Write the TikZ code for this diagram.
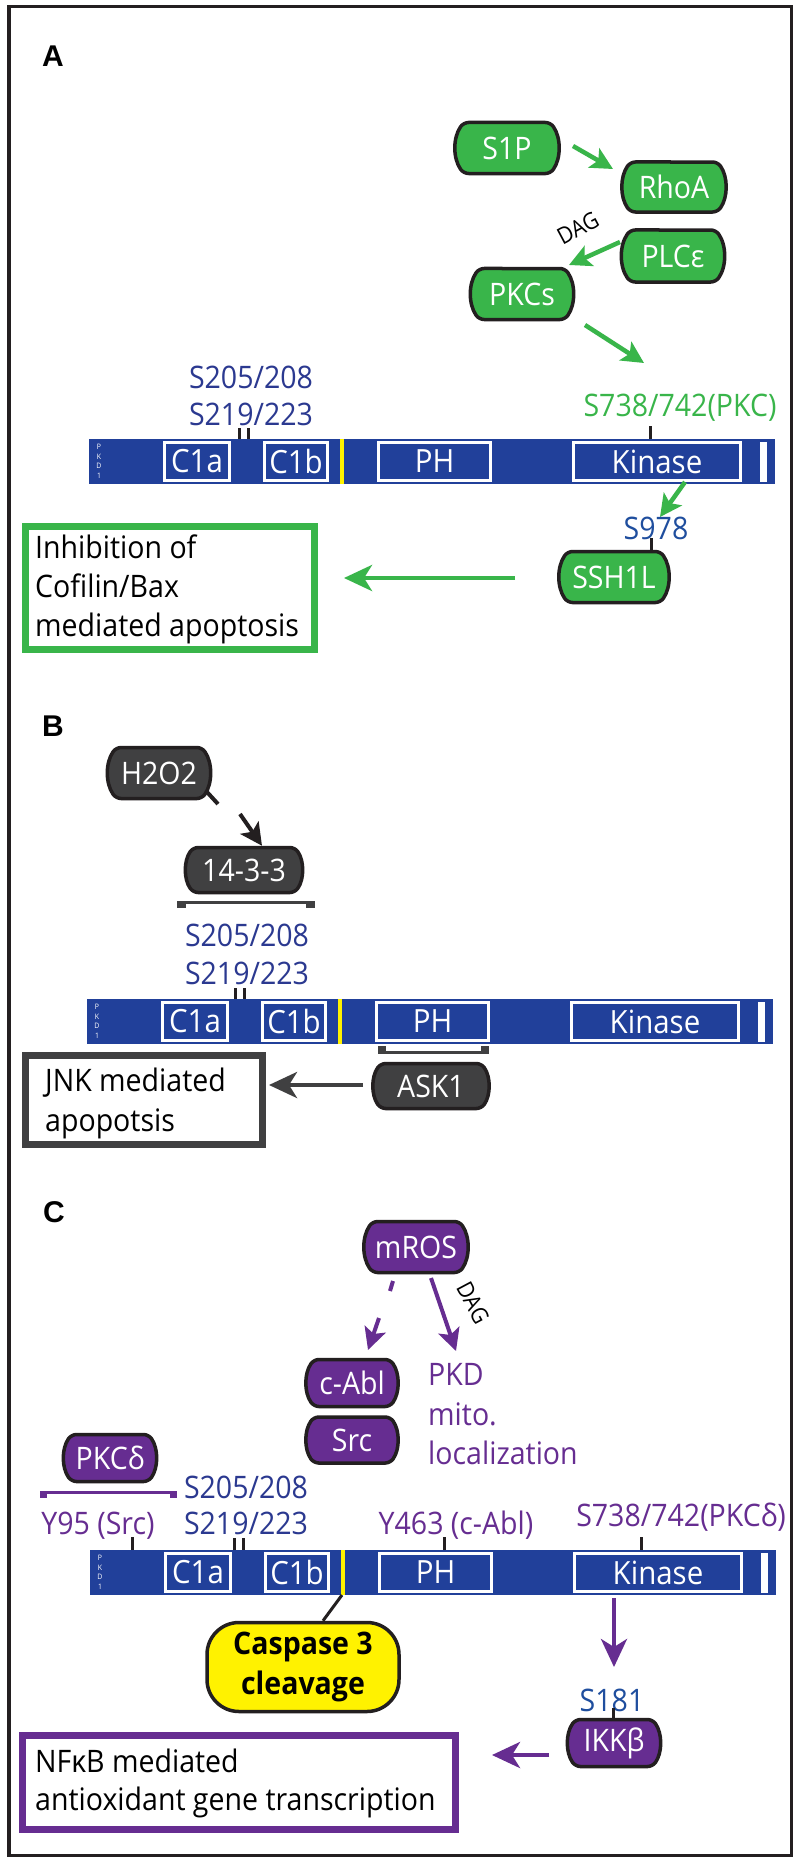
\documentclass[tikz,border=0pt]{standalone}
\usepackage{fontspec}
\setmainfont{Open Sans}[FakeStretch=0.92]
\newfontfamily\labfont{Liberation Sans}
\usetikzlibrary{shapes.misc,arrows.meta}
\definecolor{pkdblue}{HTML}{21409A}
\definecolor{navy}{HTML}{2B3990}
\definecolor{sblue}{HTML}{1F4E9E}
\definecolor{pgreen}{HTML}{39B54A}
\definecolor{ppurple}{HTML}{662D91}
\definecolor{dgray}{HTML}{404041}
\definecolor{frame}{HTML}{231F20}
\definecolor{cyellow}{HTML}{FFF200}
\tikzset{
  txt/.style={font=\fontsize{31}{36}\selectfont},
  prot/.style={rounded rectangle, rounded rectangle arc length=70, draw=frame,
    line width=3.5pt, line join=round, rounded corners=5pt, inner sep=0pt, text=white, txt},
  gprot/.style={prot, fill=pgreen},
  kprot/.style={prot, fill=dgray},
  vprot/.style={prot, fill=ppurple},
  lbl/.style={anchor=base, inner sep=0pt, txt},
  boxtxt/.style={anchor=base west, inner sep=0pt, text=black, txt},
  panlab/.style={inner sep=0pt, font=\labfont\bfseries\fontsize{30}{30}\selectfont},
  tickln/.style={line width=3pt, draw=frame},
  dombox/.style={draw=white, line width=3pt, fill=pkdblue, text=white, inner sep=0pt,
    minimum height=38pt, font=\fontsize{32}{34}\selectfont},
  resbox/.style={draw, line width=7pt, inner sep=0pt},
  bigtip/.style={-{Stealth[length=28pt,width=26pt,inset=8pt]}},
  smalltip/.style={-{Stealth[length=22pt,width=22pt,inset=5pt]}},
  dag/.style={inner sep=0pt, font=\fontsize{23}{25}\selectfont, text=black},
}
\newcommand{\pkdbar}[2]{%
  \begin{scope}[shift={#1}]
    \fill[pkdblue] (0,0) rectangle (686,45);
    \node[dombox, minimum width=65pt] (#2c1a) at (108,22.5) {C1a};
    \node[dombox, minimum width=63pt] (#2c1b) at (207,22.5) {C1b};
    \fill[cyellow] (250.5,0) rectangle (254.5,45);
    \node[dombox, minimum width=112pt] (#2ph) at (345.5,22.5) {PH};
    \node[dombox, minimum width=167pt] (#2kin) at (568,22.5) {Kinase};
    \fill[white] (671,2.5) rectangle (678,42.5);
    \node[inner sep=0pt, text=white, align=center, font=\fontsize{7.5}{9.5}\selectfont] (#2name) at (10,22.5) {P\\K\\D\\1};
  \end{scope}}
\begin{document}
\begin{tikzpicture}[x=1pt,y=-1pt]
\useasboundingbox (0,0) rectangle (800,1865);
\fill[white] (0,0) rectangle (800,1865);
\draw[line width=3.5pt, frame] (9,6.5) rectangle (791.5,1855.5);

% ================= Panel A =================
\node[panlab] (labA) at (53,56) {A};
\node[gprot, minimum width=103pt, minimum height=51pt] (s1p) at (507,148) {S1P};
\node[gprot, minimum width=103pt, minimum height=50pt] (rhoa) at (674,187) {RhoA};
\node[gprot, minimum width=102pt, minimum height=52pt] (plce) at (673,256) {PLCε};
\node[gprot, minimum width=102pt, minimum height=51pt] (pkcs) at (522,294) {PKCs};
\coordinate (a1s) at (573,146); \coordinate (a1e) at (613,169);
\draw[pgreen, line width=4.5pt, smalltip] (a1s) -- (a1e);
\coordinate (a2s) at (620,242); \coordinate (a2e) at (569,265);
\draw[pgreen, line width=4.5pt, smalltip] (a2s) -- (a2e);
\node[dag, rotate=28] (dagA) at (578,228) {DAG};
\coordinate (a3s) at (585,325); \coordinate (a3e) at (644,363);
\draw[pgreen, line width=4.5pt, smalltip] (a3s) -- (a3e);

\node[lbl, text=navy] (aS205) at (251,388) {S205/208};
\node[lbl, text=navy] (aS219) at (251,425) {S219/223};
\node[lbl, text=pgreen] (aS738) at (680,416) {S738/742(PKC)};

\pkdbar{(89,439)}{a}
\coordinate (at1) at (239,428); \coordinate (at2) at (248,428);
\draw[tickln] (at1) -- ++(0,11); \draw[tickln] (at2) -- ++(0,11);
\coordinate (at3) at (650,426);
\draw[tickln] (at3) -- ++(0,13);

\coordinate (a4s) at (685,482); \coordinate (a4e) at (660,517);
\draw[pgreen, line width=4.5pt, smalltip] (a4s) -- (a4e);
\node[lbl, text=sblue] (aS978) at (656,539) {S978};
\node[gprot, minimum width=109pt, minimum height=51pt] (ssh) at (614,577) {SSH1L};
\draw[tickln] (651,538) -- (ssh.north -| 651,0);
\node[resbox, draw=pgreen, minimum width=289pt, minimum height=123pt] (inhib) at (170,588) {};
\node[boxtxt] (inh1) at (35,558) {Inhibition of};
\node[boxtxt] (inh2) at (35,597) {Cofilin/Bax};
\node[boxtxt] (inh3) at (35,636) {mediated apoptosis};
\coordinate (a5s) at (515,578); \coordinate (a5e) at (344,578);
\draw[pgreen, line width=4.5pt, bigtip] (a5s) -- (a5e);

% ================= Panel B =================
\node[panlab] (labB) at (53,726) {B};
\node[kprot, minimum width=102pt, minimum height=51pt] (h2o2) at (159,773) {H2O2};
\coordinate (b1s) at (207,792); \coordinate (b1e) at (218,804);
\draw[frame, line width=4pt] (b1s) -- (b1e);
\node[kprot, minimum width=116pt, minimum height=45pt] (p1433) at (244,870) {14-3-3};
\coordinate (b2s) at (240,814);
\draw[frame, line width=4pt, smalltip] (b2s) -- (p1433.north -| 262,0);
\draw[dgray, line width=3pt] (177,902.5) -- (315,902.5);
\fill[dgray] (177,901) rectangle (186,908);
\fill[dgray] (306,901) rectangle (315,908);
\node[lbl, text=navy] (bS205) at (247,946) {S205/208};
\node[lbl, text=navy] (bS219) at (247,984) {S219/223};

\pkdbar{(87,999)}{b}
\coordinate (bt1) at (235,988); \coordinate (bt2) at (244,988);
\draw[tickln] (bt1) -- ++(0,11); \draw[tickln] (bt2) -- ++(0,11);
\draw[dgray, line width=3pt] (378,1052) -- (489,1052);
\fill[dgray] (378,1046) rectangle (386,1053.5);
\fill[dgray] (481,1046) rectangle (489,1053.5);
\node[kprot, minimum width=115pt, minimum height=45pt] (ask1) at (431,1086) {ASK1};
\node[resbox, draw=dgray, minimum width=237pt, minimum height=89pt] (jnk) at (144,1100) {};
\node[boxtxt] (jnk1) at (45,1091) {JNK mediated};
\node[boxtxt] (jnk2) at (45,1131) {apopotsis};
\coordinate (b3s) at (363,1085); \coordinate (b3e) at (269,1085);
\draw[dgray, line width=4.5pt, bigtip] (b3s) -- (b3e);

% ================= Panel C =================
\node[panlab] (labC) at (54,1212) {C};
\node[vprot, minimum width=103pt, minimum height=51pt] (mros) at (416,1247) {mROS};
\coordinate (c1s) at (393,1281); \coordinate (c1e) at (390,1291);
\draw[ppurple, line width=4pt] (c1s) -- (c1e);
\node[vprot, minimum width=91pt, minimum height=47pt] (cabl) at (352,1383) {c-Abl};
\node[vprot, minimum width=91pt, minimum height=46pt] (src) at (352,1440) {Src};
\coordinate (c2s) at (379,1318); \coordinate (c2e) at (368,1350);
\draw[ppurple, line width=4pt, smalltip] (c2s) -- (c2e);
\coordinate (c3s) at (431,1278); \coordinate (c3e) at (456,1351);
\draw[ppurple, line width=4pt, smalltip] (c3s) -- (c3e);
\node[dag, rotate=-62] (dagC) at (473,1303) {DAG};
\node[lbl, anchor=base west, text=ppurple] (pkdt1) at (428,1385) {PKD};
\node[lbl, anchor=base west, text=ppurple] (pkdt2) at (428,1425) {mito.};
\node[lbl, anchor=base west, text=ppurple] (pkdt3) at (428,1464) {localization};

\node[vprot, minimum width=92pt, minimum height=47pt] (pkcd) at (110,1458) {PKCδ};
\draw[ppurple, line width=3pt] (40,1492.5) -- (177,1492.5);
\fill[ppurple] (40,1491) rectangle (47,1498);
\fill[ppurple] (170,1491) rectangle (177,1498);

\node[lbl, text=ppurple] (cY95) at (98,1534) {Y95 (Src)};
\node[lbl, text=navy] (cS205) at (246,1498) {S205/208};
\node[lbl, text=navy] (cS219) at (246,1534) {S219/223};
\node[lbl, text=ppurple] (cY463) at (456,1534) {Y463 (c-Abl)};
\node[lbl, text=ppurple] (cS738) at (681,1526) {S738/742(PKCδ)};

\pkdbar{(90,1550)}{c}
\draw[tickln] (132,1537) -- ++(0,13);
\draw[tickln] (234,1538) -- ++(0,12);
\draw[tickln] (243,1538) -- ++(0,12);
\draw[tickln] (444,1537) -- ++(0,13);
\draw[tickln] (641,1537) -- ++(0,13);

\node[draw=frame, fill=cyellow, line width=3.5pt, rounded corners=32pt, minimum width=192pt, minimum height=89pt,
  align=center, font=\bfseries\fontsize{31}{40}\selectfont, inner sep=0pt] (casp) at (303,1667) {Caspase 3\\cleavage};
\coordinate (cy) at (342,1595);
\draw[frame, line width=3pt] (cy) -- (casp.north -| 323,0);

\coordinate (c4s) at (614,1598); \coordinate (c4e) at (614,1667);
\draw[ppurple, line width=4pt, bigtip] (c4s) -- (c4e);
\node[lbl, text=sblue] (cS181) at (612,1711) {S181};
\node[vprot, minimum width=92pt, minimum height=47pt] (ikkb) at (614,1743) {IKKβ};
\draw[tickln] (613,1708) -- (ikkb.north -| 613,0);
\node[resbox, draw=ppurple, minimum width=433pt, minimum height=94pt] (nfkb) at (239,1782.5) {};
\node[boxtxt] (nf1) at (35,1772) {NFκB mediated};
\node[boxtxt] (nf2) at (35,1810) {antioxidant gene transcription};
\coordinate (c5s) at (549,1755); \coordinate (c5e) at (492,1755);
\draw[ppurple, line width=4.5pt, bigtip] (c5s) -- (c5e);
\end{tikzpicture}
\end{document}
